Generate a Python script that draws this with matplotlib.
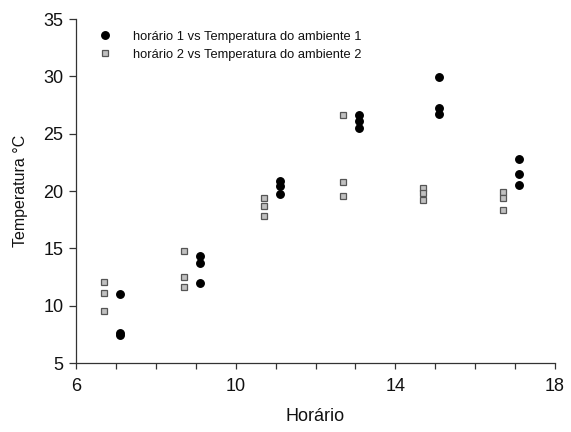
import matplotlib
matplotlib.use('Agg')
import matplotlib.pyplot as plt
from matplotlib.ticker import FixedLocator, MultipleLocator

plt.rcParams['font.family'] = ['Liberation Sans', 'DejaVu Sans']

# Série 1: horário 1 vs temperatura do ambiente 1
hora_1 = [7.1, 7.1, 7.1,
          9.1, 9.1, 9.1,
          11.1, 11.1, 11.1,
          13.1, 13.1, 13.1,
          15.1, 15.1, 15.1,
          17.1, 17.1, 17.1]
temp_1 = [11.0, 7.6, 7.4,
          14.3, 13.7, 12.0,
          20.9, 20.4, 19.7,
          26.6, 26.1, 25.5,
          29.9, 27.2, 26.7,
          22.8, 21.5, 20.5]

# Série 2: horário 2 vs temperatura do ambiente 2
hora_2 = [6.7, 6.7, 6.7,
          8.7, 8.7, 8.7,
          10.7, 10.7, 10.7,
          12.7, 12.7, 12.7,
          14.7, 14.7, 14.7,
          16.7, 16.7, 16.7]
temp_2 = [12.1, 11.1, 9.5,
          14.8, 12.5, 11.6,
          19.4, 18.7, 17.8,
          26.6, 20.8, 19.6,
          20.3, 19.8, 19.25,
          19.9, 19.4, 18.3]

x_ticks = [6, 10, 14, 18]

AXIS_COLOR = "#333333"
TEXT_COLOR = "#111111"

fig = plt.figure(figsize=(5.71, 4.32), dpi=100)
ax = fig.add_axes([76 / 571, 1 - 363 / 432, (555 - 76) / 571, (363 - 19) / 432])

ax.plot(hora_1, temp_1, linestyle='none', marker='o', markersize=5.4,
        color='black', markeredgecolor='black',
        label='horário 1 vs Temperatura do ambiente 1')
ax.plot(hora_2, temp_2, linestyle='none', marker='s', markersize=4.7,
        markerfacecolor='#c0c0c0', markeredgecolor='#555555', markeredgewidth=0.9,
        label='horário 2 vs Temperatura do ambiente 2')

ax.set_xlim(6, 18)
ax.set_ylim(5, 35)
ax.xaxis.set_major_locator(FixedLocator(x_ticks))
ax.xaxis.set_minor_locator(MultipleLocator(1))
ax.yaxis.set_major_locator(MultipleLocator(5))

for side in ('top', 'right'):
    ax.spines[side].set_visible(False)
for side in ('left', 'bottom'):
    ax.spines[side].set_color(AXIS_COLOR)
    ax.spines[side].set_linewidth(0.9)

ax.tick_params(axis='both', which='both', direction='out', color=AXIS_COLOR,
               width=0.9, labelcolor=TEXT_COLOR, labelsize=13)
ax.tick_params(axis='x', which='both', length=4, pad=7)
ax.tick_params(axis='y', which='major', length=5, pad=4)

ax.set_xlabel('Horário', fontsize=13, color=TEXT_COLOR, labelpad=9)
ax.set_ylabel('Temperatura °C', fontsize=11.5, color=TEXT_COLOR, labelpad=11)

ax.legend(loc='upper left', bbox_to_anchor=(0.044, 0.966), frameon=False,
          fontsize=9.3, handletextpad=1.55, handlelength=1.2, labelspacing=0.45,
          borderpad=0, borderaxespad=0, labelcolor=TEXT_COLOR)

fig.savefig('out.png', dpi=100, facecolor='white')
